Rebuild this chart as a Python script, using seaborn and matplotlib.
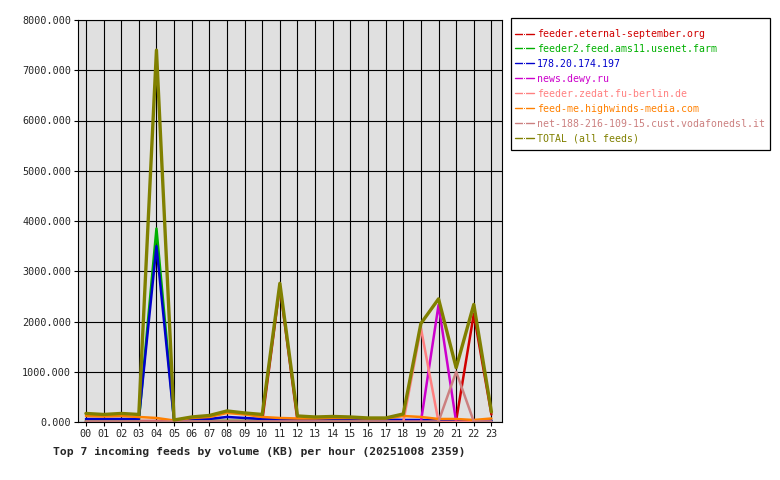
#!/usr/bin/env python3
# -*- coding: utf-8 -*-

import matplotlib as mpl
import matplotlib.pyplot as plt
import seaborn as sns
import pandas as pd
from matplotlib.patches import Rectangle

mpl.use("Agg")

sns.set_style("ticks")
mpl.rcParams["font.family"] = ["DejaVu Sans Mono"]

FONTSIZE = 7.3

hours = [f"{h:02d}" for h in range(24)]

feeds = [
    "feeder.eternal-september.org",
    "feeder2.feed.ams11.usenet.farm",
    "178.20.174.197",
    "news.dewy.ru",
    "feeder.zedat.fu-berlin.de",
    "feed-me.highwinds-media.com",
    "net-188-216-109-15.cust.vodafonedsl.it",
    "TOTAL (all feeds)",
]

eternal = [20, 20, 20, 20, 20, 20, 20, 20, 20, 20, 20, 2700,
           20, 20, 20, 20, 20, 20, 20, 20, 20, 30, 2150, 150]
ams11 = [20, 20, 20, 20, 3850, 20, 20, 20, 20, 20, 20, 20,
         20, 20, 20, 20, 20, 20, 20, 20, 20, 20, 20, 20]
ip178 = [60, 60, 60, 60, 3500, 20, 60, 60, 100, 80, 60, 50,
         50, 50, 60, 60, 60, 50, 40, 40, 30, 30, 30, 30]
dewy = [0, 0, 0, 0, 0, 0, 0, 0, 0, 0, 0, 0,
        0, 0, 0, 0, 0, 0, 0, 0, 2330, 0, 0, 0]
zedat = [0, 0, 0, 0, 0, 0, 0, 0, 0, 0, 0, 0,
         0, 0, 0, 0, 0, 0, 0, 1870, 0, 0, 0, 0]
highwinds = [120, 110, 120, 100, 80, 30, 80, 100, 180, 150, 100, 80,
             70, 70, 80, 80, 70, 70, 120, 100, 60, 60, 40, 70]
vodafone = [10, 10, 10, 10, 10, 10, 10, 10, 10, 10, 10, 10,
            10, 10, 10, 10, 10, 10, 10, 10, 10, 1000, 10, 10]
total = [170, 150, 170, 150, 7400, 40, 100, 130, 220, 180, 150, 2760,
         120, 100, 110, 100, 80, 80, 160, 1960, 2450, 1080, 2340, 200]

series = [eternal, ams11, ip178, dewy, zedat, highwinds, vodafone, total]
colors = ["#D00000", "#00B000", "#0000CC", "#CC00CC",
          "#FF8080", "#FF8000", "#CC8080", "#808000"]

rows = []
for name, vals in zip(feeds, series):
    for i, v in enumerate(vals):
        rows.append({"hour": i, "feed": name, "kb": v})
df = pd.DataFrame(rows)

fig = plt.figure(figsize=(7.8, 4.8), dpi=100)
ax = fig.add_axes([78 / 780, 1 - 422 / 480, (502 - 78) / 780, (422 - 20) / 480])
ax.set_facecolor("#E0E0E0")

sns.lineplot(
    data=df,
    x="hour",
    y="kb",
    hue="feed",
    hue_order=feeds,
    palette=dict(zip(feeds, colors)),
    linewidth=1.8,
    ax=ax,
)
# TOTAL a bit thicker
ax.lines[len(feeds) - 1].set_linewidth(2.4)

ax.set_xlim(-0.45, 23.6)
ax.set_ylim(0, 8000)
ax.set_xticks(range(24))
ax.set_xticklabels(hours, fontsize=FONTSIZE)
ax.set_yticks(range(0, 8001, 1000))
ax.set_yticklabels([f"{v:.3f}" for v in range(0, 8001, 1000)], fontsize=FONTSIZE)
ax.tick_params(axis="both", length=3, width=0.8, color="black", pad=2)
ax.set_xlabel("")
ax.set_ylabel("")
ax.grid(True, color="black", linewidth=0.8)
ax.set_axisbelow(True)
for sp in ax.spines.values():
    sp.set_color("black")
    sp.set_linewidth(0.8)

fig.text(259 / 780, 1 - 452 / 480,
         "Top 7 incoming feeds by volume (KB) per hour (20251008 2359)",
         ha="center", va="center", fontsize=8.2, fontweight="bold")

# legend box drawn separately (more padding top/bottom than left/right)
fig.patches.append(Rectangle(
    (511 / 780, 1 - 150 / 480), 259 / 780, 132 / 480,
    transform=fig.transFigure, fill=False, edgecolor="black", linewidth=0.9,
))

handles, labels = ax.get_legend_handles_labels()
leg = ax.legend(
    handles, labels,
    loc="upper left",
    bbox_to_anchor=(512 / 780, 1 - 26 / 480),
    bbox_transform=fig.transFigure,
    fontsize=7.1,
    frameon=False,
    handlelength=1.9,
    handletextpad=0.3,
    labelspacing=0.5,
    borderpad=0.3,
    borderaxespad=0,
)
for line, text, c in zip(leg.get_lines(), leg.get_texts(), colors):
    line.set_linewidth(1.0)
    line.set_marker("s")
    line.set_markersize(2)
    text.set_color(c)

fig.savefig("out.png", dpi=100, facecolor="white")
